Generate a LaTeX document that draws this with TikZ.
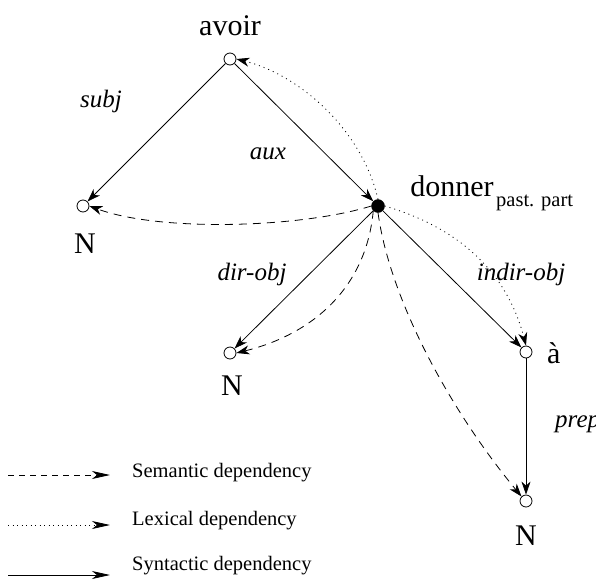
\documentclass[tikz,border=0pt]{standalone}
\usepackage{fontspec}
\setmainfont{Liberation Serif}
\usetikzlibrary{arrows.meta}
\begin{document}
\begin{tikzpicture}[x=1pt,y=-1pt,
  vtx/.style={circle,draw,fill=white,minimum size=12pt,inner sep=0pt,line width=0.8pt},
  fvtx/.style={circle,draw,fill=black,minimum size=13pt,inner sep=0pt},
  word/.style={font=\fontsize{30}{32}\selectfont,anchor=base,inner sep=0pt},
  rel/.style={font=\fontsize{25}{27}\selectfont\itshape,anchor=base,inner sep=0pt},
  small/.style={font=\fontsize{20.5}{22}\selectfont,anchor=base west,inner sep=0pt},
  syn/.style={line width=0.8pt,-{Stealth[length=13pt,width=9pt,inset=4pt]}},
  sem/.style={syn,dash pattern=on 8pt off 6pt},
  lex/.style={syn,dash pattern=on 1pt off 4pt},
  leg/.style={line width=0.8pt,-{Stealth[length=18pt,width=8pt,inset=5pt]}}]
\useasboundingbox (0,0) rectangle (596,581);
% vertices
\node[vtx] (avoir) at (230,59) {};
\node[fvtx] (donner) at (378,206) {};
\node[vtx] (nl) at (83,206) {};
\node[vtx] (nm) at (230,353) {};
\node[vtx] (a) at (526,352) {};
\node[vtx] (nb) at (526,501) {};
% words
\node[word] (wavoir) at (230,35) {avoir};
\node[word] (wdonner) at (452,196) {donner};
\node[small,anchor=base west] (wpp) at (496,206) {past. part};
\node[word] (wnl) at (85,253) {N};
\node[word] (wnm) at (232,395) {N};
\node[word,anchor=base west] (wa) at (547,363) {à};
\node[word] (wnb) at (526,545) {N};
% relation labels
\node[rel] (lsubj) at (101,107) {subj};
\node[rel] (laux) at (268,159) {aux};
\node[rel] (ldir) at (252,280) {dir-obj};
\node[rel] (lindir) at (521,280) {indir-obj};
\node[rel,anchor=base west] (lprep) at (555,427) {prep};
% syntactic
\draw[syn] (avoir) -- (nl);
\draw[syn] (avoir) -- (donner);
\draw[syn] (donner) -- (nm);
\draw[syn] (donner) -- (a);
\draw[syn] (a) -- (nb);
% semantic
\draw[sem] (donner.west) .. controls (300,228) and (160,232) .. (nl.east);
\draw[sem] (donner.south west) .. controls (366,290) and (310,335) .. (nm.east);
\draw[sem] (donner.south) .. controls (390,300) and (450,410) .. (nb.north west);
% lexical
\draw[lex] (donner.north) .. controls (362,130) and (300,75) .. (avoir.east);
\draw[lex] (donner.east) .. controls (450,225) and (505,265) .. (a.north);
% legend
\coordinate (s1) at (8,475); \coordinate (e1) at (110,475);
\coordinate (s2) at (8,525); \coordinate (e2) at (110,525);
\coordinate (s3) at (8,575); \coordinate (e3) at (110,575);
\draw[leg,dash pattern=on 6pt off 5pt] (s1) -- (e1);
\draw[leg,dash pattern=on 1pt off 3.5pt] (s2) -- (e2);
\draw[leg] (s3) -- (e3);
\node[small] (t1) at (132,477) {Semantic dependency};
\node[small] (t2) at (132,525) {Lexical dependency};
\node[small] (t3) at (132,570) {Syntactic dependency};
\end{tikzpicture}
\end{document}
